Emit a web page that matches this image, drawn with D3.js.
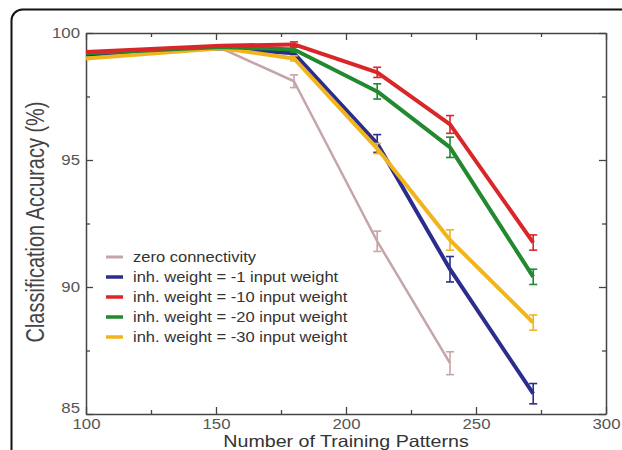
<!DOCTYPE html>
<html>
<head>
<meta charset="utf-8">
<script src="https://cdn.jsdelivr.net/npm/d3@7"></script>
<style>
  body { margin: 0; background: #fff; }
  svg { display: block; font-family: "Liberation Sans", Arial, sans-serif; }
</style>
</head>
<body>
<div id="chart"></div>
<script>
// training pattern counts
var patterns = [100, 152, 180, 212, 240, 272];

// accuracy (%) per condition
var zeroConn = [99.1, 99.4, 98.1, 91.8, 87.0];
var inh1 = [99.15, 99.4, 99.2, 95.65, 90.7, 85.8];
var inh10 = [99.25, 99.5, 99.55, 98.45, 96.4, 91.75];
var inh20 = [99.2, 99.45, 99.35, 97.7, 95.5, 90.4];
var inh30 = [99.0, 99.4, 99.0, 95.45, 91.85, 88.6];

// error bar half-widths
var zeroErr = [0, 0, 0.25, 0.4, 0.45];
var inh1Err = [0, 0, 0.1, 0.35, 0.5, 0.4];
var inh10Err = [0, 0, 0.1, 0.2, 0.35, 0.3];
var inh20Err = [0, 0, 0.1, 0.3, 0.4, 0.3];
var inh30Err = [0, 0, 0.1, 0.2, 0.4, 0.3];

var legendLabels = [
  "zero connectivity",
  "inh. weight = -1 input weight",
  "inh. weight = -10 input weight",
  "inh. weight = -20 input weight",
  "inh. weight = -30 input weight"
];
var xTicks = [100, 150, 200, 250, 300];
var yTicks = [85, 90, 95, 100];

var width = 622, height = 450;
var margin = {top: 33, right: 16, bottom: 36, left: 86};

var series = [
  {name: legendLabels[0], values: zeroConn, err: zeroErr, color: "#c6a5a8", w: 2.5},
  {name: legendLabels[1], values: inh1, err: inh1Err, color: "#2b2d8e", w: 4},
  {name: legendLabels[2], values: inh10, err: inh10Err, color: "#da2629", w: 4},
  {name: legendLabels[3], values: inh20, err: inh20Err, color: "#22892f", w: 4},
  {name: legendLabels[4], values: inh30, err: inh30Err, color: "#f2b41c", w: 4}
];
// drawing order (red ends up on top)
var drawOrder = [0, 1, 4, 3, 2];

// the source figure is stretched sideways, so text is widened a bit
var stretch = 1.2;

var x = d3.scaleLinear().domain([100, 300]).range([margin.left, width - margin.right]);
var y = d3.scaleLinear().domain([85, 100]).range([height - margin.bottom, margin.top]);

var svg = d3.select("#chart").append("svg")
    .attr("width", width)
    .attr("height", height);

// rounded frame, runs off the right / bottom edge
svg.append("rect")
    .attr("x", 11.5).attr("y", 9.5)
    .attr("width", 800).attr("height", 600)
    .attr("rx", 11)
    .attr("fill", "none")
    .attr("stroke", "#111")
    .attr("stroke-width", 2);

var axisColor = "#444";

function styleAxis(g) {
  g.select(".domain").attr("stroke", axisColor).attr("stroke-width", 1.5);
  g.selectAll(".tick line").attr("stroke", axisColor).attr("stroke-width", 1.3);
  g.selectAll(".tick text")
      .attr("fill", "#555")
      .attr("transform", `scale(${stretch},1)`)
      .style("font-size", "14px");
}

var minorX = [125, 175, 225, 275];
var minorY = [87.5, 92.5, 97.5];

// bottom
svg.append("g")
    .attr("transform", `translate(0,${y(85)})`)
    .call(d3.axisBottom(x).tickValues(xTicks).tickSizeInner(-7).tickSizeOuter(0).tickPadding(5))
    .call(styleAxis);
svg.append("g")
    .attr("transform", `translate(0,${y(85)})`)
    .call(d3.axisBottom(x).tickValues(minorX).tickSize(-4).tickFormat(""))
    .call(g => g.select(".domain").remove())
    .call(styleAxis);
// top
svg.append("g")
    .attr("transform", `translate(0,${y(100)})`)
    .call(d3.axisTop(x).tickValues(xTicks).tickSizeInner(-7).tickSizeOuter(0).tickFormat(""))
    .call(styleAxis);
svg.append("g")
    .attr("transform", `translate(0,${y(100)})`)
    .call(d3.axisTop(x).tickValues(minorX).tickSize(-4).tickFormat(""))
    .call(g => g.select(".domain").remove())
    .call(styleAxis);
// left
svg.append("g")
    .attr("transform", `translate(${x(100)},0)`)
    .call(d3.axisLeft(y).tickValues(yTicks).tickSizeInner(-7).tickSizeOuter(0).tickPadding(5))
    .call(styleAxis)
    .call(g => g.selectAll(".tick text").filter(d => d === 85).attr("y", -6));
svg.append("g")
    .attr("transform", `translate(${x(100)},0)`)
    .call(d3.axisLeft(y).tickValues(minorY).tickSize(-4).tickFormat(""))
    .call(g => g.select(".domain").remove())
    .call(styleAxis);
// right
svg.append("g")
    .attr("transform", `translate(${x(300)},0)`)
    .call(d3.axisRight(y).tickValues(yTicks).tickSizeInner(-7).tickSizeOuter(0).tickFormat(""))
    .call(styleAxis);
svg.append("g")
    .attr("transform", `translate(${x(300)},0)`)
    .call(d3.axisRight(y).tickValues(minorY).tickSize(-4).tickFormat(""))
    .call(g => g.select(".domain").remove())
    .call(styleAxis);

// axis titles
svg.append("text")
    .attr("transform", "translate(346,447) scale(1.19,1)")
    .attr("text-anchor", "middle")
    .attr("fill", "#333")
    .style("font-size", "16.5px")
    .text("Number of Training Patterns");

svg.append("text")
    .attr("transform", "translate(44,222) rotate(-90) scale(1,1.25)")
    .attr("text-anchor", "middle")
    .attr("fill", "#444")
    .style("font-size", "20px")
    .text("Classification Accuracy (%)");

var line = d3.line()
    .x(d => x(d[0]))
    .y(d => y(d[1]));

var plot = svg.append("g");

drawOrder.forEach(i => {
  var s = series[i];
  var pts = s.values.map((v, j) => [patterns[j], v, s.err[j]]);
  var g = plot.append("g");

  g.append("path")
      .datum(pts)
      .attr("d", line)
      .attr("fill", "none")
      .attr("stroke", s.color)
      .attr("stroke-width", s.w)
      .attr("stroke-linejoin", "round");

  var bars = g.selectAll("g.err")
    .data(pts.filter(d => d[2] > 0))
    .join("g")
      .attr("class", "err")
      .attr("stroke", s.color)
      .attr("stroke-width", 1.6);

  bars.append("line")
      .attr("x1", d => x(d[0])).attr("x2", d => x(d[0]))
      .attr("y1", d => y(d[1] - d[2])).attr("y2", d => y(d[1] + d[2]));
  bars.append("line")
      .attr("x1", d => x(d[0]) - 4).attr("x2", d => x(d[0]) + 4)
      .attr("y1", d => y(d[1] + d[2])).attr("y2", d => y(d[1] + d[2]));
  bars.append("line")
      .attr("x1", d => x(d[0]) - 4).attr("x2", d => x(d[0]) + 4)
      .attr("y1", d => y(d[1] - d[2])).attr("y2", d => y(d[1] - d[2]));
});

// legend
var legend = svg.append("g")
    .attr("transform", "translate(106,257)");

var item = legend.selectAll("g")
  .data(series)
  .join("g")
    .attr("transform", (d, i) => `translate(0,${i * 20})`);

item.append("line")
    .attr("x1", 0).attr("x2", 17)
    .attr("y1", 0).attr("y2", 0)
    .attr("stroke", d => d.color)
    .attr("stroke-width", d => d.w === 4 ? 3.5 : 3);

item.append("text")
    .attr("transform", "translate(27,0) scale(1.14,1)")
    .attr("dy", "0.35em")
    .attr("fill", "#333")
    .style("font-size", "14.5px")
    .text(d => d.name);
</script>
</body>
</html>
